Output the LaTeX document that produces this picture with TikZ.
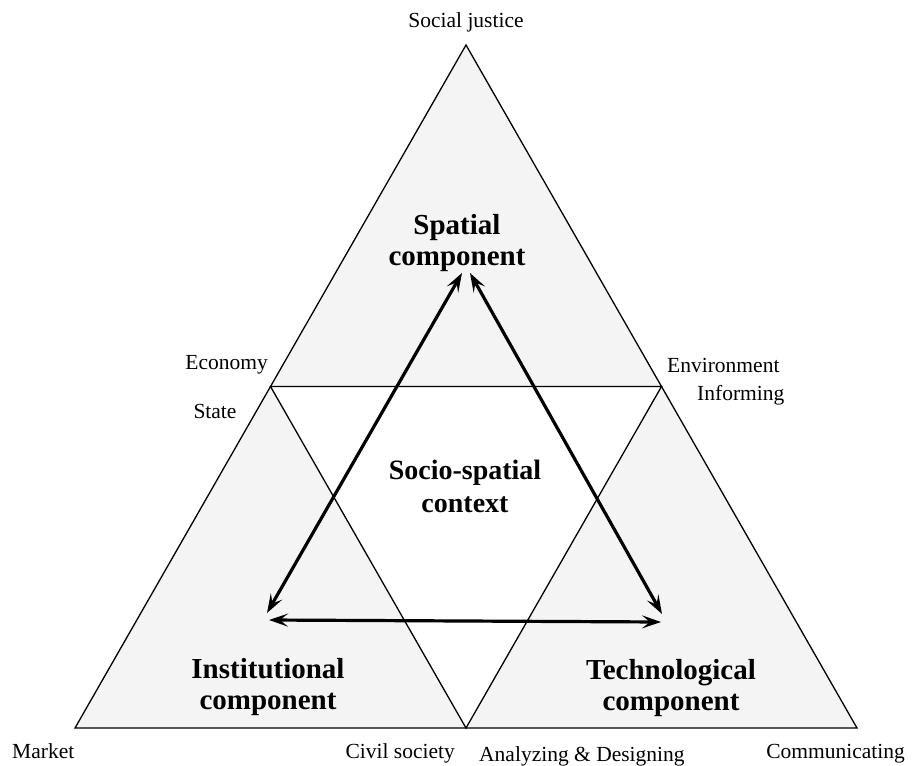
\documentclass[tikz,border=0pt]{standalone}
\usepackage{fontspec}
\setmainfont{Liberation Serif}
\usetikzlibrary{arrows.meta}
\definecolor{panel}{gray}{0.955}
\tikzset{
  edge/.style={line width=1.3pt, black, line join=miter},
  link/.style={line width=3.2pt, black, {Stealth[length=19pt,width=13pt,inset=8pt]}-{Stealth[length=19pt,width=13pt,inset=8pt]}},
  lab/.style={font=\fontsize{21.5}{25}\selectfont, inner sep=0pt},
  comp/.style={font=\fontsize{29}{31}\selectfont\bfseries, align=center, inner sep=0pt},
  ctx/.style={font=\fontsize{28}{33}\selectfont\bfseries, align=center, inner sep=0pt}
}
\begin{document}
\begin{tikzpicture}[x=1pt,y=-1pt]
\useasboundingbox (0,0) rectangle (916,766);
% vertices
\coordinate (A) at (466,45);
\coordinate (B) at (75,728);
\coordinate (C) at (857,728);
\coordinate (L) at (270.5,386.5);
\coordinate (R) at (661.5,386.5);
\coordinate (M) at (466,728);
% fills
\fill[panel] (A) -- (B) -- (C) -- cycle;
\fill[white] (L) -- (R) -- (M) -- cycle;
% outlines
\draw[edge] (A) -- (B) -- (C) -- cycle;
\draw[edge] (L) -- (R) -- (M) -- cycle;
% arrow ends
\coordinate (s1) at (462,273);
\coordinate (s2) at (470,273);
\coordinate (i1) at (267,613);
\coordinate (i2) at (269,620);
\coordinate (t1) at (662,614);
\coordinate (t2) at (661,622);
\draw[link] (s1) -- (i1);
\draw[link] (s2) -- (t1);
\draw[link] (i2) -- (t2);
% labels
\node[lab] (sj) at (466,22) {Social justice};
\node[lab, anchor=east] (eco) at (268,365) {Economy};
\node[lab] (st) at (215,411) {State};
\node[lab, anchor=west] (env) at (667,365) {Environment};
\node[lab, anchor=west] (inf) at (697,395) {Informing};
\node[lab, anchor=base west] (mk) at (12,758) {Market};
\node[lab, anchor=base east] (cs) at (455,758) {Civil society};
\node[lab, anchor=base west] (ad) at (479,761) {Analyzing \& Designing};
\node[lab, anchor=base east] (cm) at (905,758) {Communicating};
\node[comp] (sp) at (457,243) {Spatial\\component};
\node[comp] (ic) at (268,687) {Institutional\\component};
\node[comp] (tc) at (671,688) {Technological\\component};
\node[ctx] (sc) at (465,486) {Socio-spatial\\context};
\end{tikzpicture}
\end{document}
